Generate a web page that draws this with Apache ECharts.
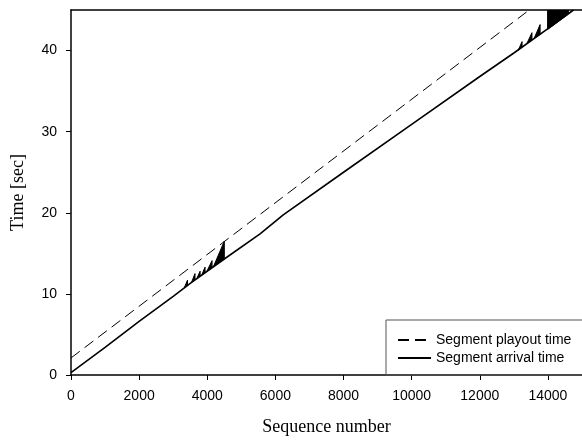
<!DOCTYPE html>
<html>
<head>
<meta charset="utf-8">
<script src="https://cdn.jsdelivr.net/npm/echarts@6/dist/echarts.min.js"></script>
<style>
html, body { margin: 0; padding: 0; background: #fff; }
#main { width: 582px; height: 441px; }
</style>
</head>
<body>
<div id="main"></div>
<script>
var chartDom = document.getElementById('main');
var myChart = echarts.init(chartDom);
var option;

// [sequence number, time in sec]
const playout = [[0, 2.1], [13450, 45]];
const arrival = [
  [0, 0.3], [1000, 3.4], [2000, 6.6], [3000, 9.7], [3500, 11.3],
  [4500, 14.3], [5550, 17.4], [6230, 19.75], [8000, 25.0],
  [10000, 30.9], [12000, 36.8], [13000, 39.7], [14000, 42.7], [14750, 45]
];
// late-arriving bursts drawn as filled polygons
const spikes = [
  [[3330, 10.8], [3420, 11.7], [3420, 11.05]],
  [[3540, 11.45], [3640, 12.5], [3640, 11.75]],
  [[3700, 11.95], [3790, 12.8], [3790, 12.2]],
  [[3840, 12.35], [3935, 13.3], [3935, 12.6]],
  [[3990, 12.8], [4140, 14.1], [4140, 13.2]],
  [[4180, 13.35], [4500, 16.5], [4500, 14.3]],
  [[13130, 40.05], [13240, 41.1], [13240, 40.4]],
  [[13380, 40.85], [13530, 42.2], [13530, 41.3]],
  [[13600, 41.55], [13770, 43.2], [13770, 42.0]],
  [[13990, 42.6], [13990, 48], [14600, 48], [14600, 44.5]]
];
const xTicks = { min: 0, max: 15000, interval: 2000 };
const yTicks = { min: 0, max: 45, interval: 10 };

const labelStyle = { color: '#000', fontFamily: 'Liberation Sans', fontSize: 14 };
const nameStyle = { color: '#000', fontFamily: 'Liberation Serif', fontSize: 18 };

option = {
  animation: false,
  backgroundColor: '#fff',
  grid: { left: 71, right: 0, top: 10, bottom: 65 },
  legend: {
    data: ['Segment playout time', 'Segment arrival time'],
    orient: 'vertical',
    left: 386,
    top: 320,
    padding: [13, 12, 10, 11],
    itemWidth: 33,
    itemHeight: 14,
    itemGap: 4,
    borderColor: '#555',
    borderWidth: 1,
    borderRadius: 0,
    itemStyle: { opacity: 0 },
    textStyle: { color: '#000', fontFamily: 'Liberation Sans', fontSize: 14 }
  },
  xAxis: [
    {
      type: 'value',
      min: xTicks.min,
      max: xTicks.max,
      interval: xTicks.interval,
      name: 'Sequence number',
      nameLocation: 'middle',
      nameGap: 43,
      nameTextStyle: nameStyle,
      axisLine: { lineStyle: { color: '#000', width: 1.5 } },
      axisTick: { length: 5, lineStyle: { color: '#000' } },
      axisLabel: Object.assign({
        margin: 14,
        showMaxLabel: false,
        formatter: function (v) { return String(v); }
      }, labelStyle),
      splitLine: { show: false }
    },
    {
      type: 'value',
      position: 'top',
      min: xTicks.min,
      max: xTicks.max,
      axisLine: { show: true, onZero: false, lineStyle: { color: '#000', width: 1.5 } },
      axisTick: { show: false },
      axisLabel: { show: false },
      splitLine: { show: false }
    }
  ],
  yAxis: {
    type: 'value',
    min: yTicks.min,
    max: yTicks.max,
    interval: yTicks.interval,
    name: 'Time [sec]',
    nameLocation: 'middle',
    nameGap: 44,
    nameTextStyle: nameStyle,
    axisLine: { show: true, lineStyle: { color: '#000', width: 1.5 } },
    axisTick: { show: true, length: 5, lineStyle: { color: '#000' } },
    axisLabel: Object.assign({ margin: 14, showMaxLabel: false }, labelStyle),
    splitLine: { show: false }
  },
  series: [
    {
      name: 'Segment playout time',
      type: 'line',
      data: playout,
      symbol: 'none',
      lineStyle: { color: '#000', width: 1, type: [11, 6] },
      itemStyle: { color: '#000' }
    },
    {
      name: 'Segment arrival time',
      type: 'line',
      data: arrival,
      symbol: 'none',
      lineStyle: { color: '#000', width: 1.6 },
      itemStyle: { color: '#000' }
    },
    {
      name: 'bursts',
      type: 'custom',
      clip: true,
      data: spikes.map(function (s, i) { return [s[0][0], s[0][1], i]; }),
      encode: { x: 0, y: 1 },
      renderItem: function (params, api) {
        var pts = spikes[api.value(2)].map(function (p) { return api.coord(p); });
        return {
          type: 'polygon',
          shape: { points: pts },
          style: { fill: '#000', stroke: '#000', lineWidth: 1 }
        };
      }
    }
  ]
};

option && myChart.setOption(option);
</script>
</body>
</html>
